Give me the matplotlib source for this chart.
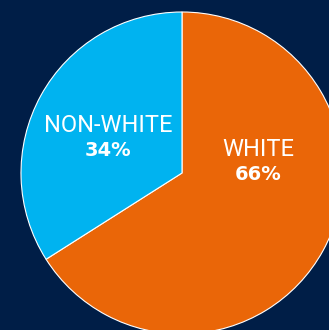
import matplotlib
matplotlib.use("Agg")
import matplotlib.pyplot as plt

labels = ["WHITE", "NON-WHITE"]
values = [66, 34]
pct_labels = ["66%", "34%"]
colors = ["#ea6608", "#00b3f0"]
bg = "#001e47"

fig = plt.figure(figsize=(3.29, 3.30), dpi=100, facecolor=bg)
ax = fig.add_axes([0, 0, 1, 1])
ax.set_facecolor(bg)

wedges, _ = ax.pie(values, colors=colors, startangle=90, counterclock=False,
                   center=(182, 157), radius=161, frame=True,
                   wedgeprops=dict(edgecolor="white", linewidth=0.8))
for w in wedges:
    w.set_clip_on(False)
ax.set_xlim(0, 329)
ax.set_ylim(0, 330)
ax.set_aspect("auto")
ax.axis("off")

pos = [(258, 330 - 149), (108, 330 - 125)]
for lab, pct, (x, y) in zip(labels, pct_labels, pos):
    ax.text(x, y, lab, ha="center", va="center", color="white",
            fontsize=17, family="Roboto", fontweight="normal")
    ax.text(x, y - 26, pct, ha="center", va="center", color="white",
            fontsize=14, family="DejaVu Sans", fontweight="heavy")

fig.savefig("out.png", dpi=100, facecolor=bg)
